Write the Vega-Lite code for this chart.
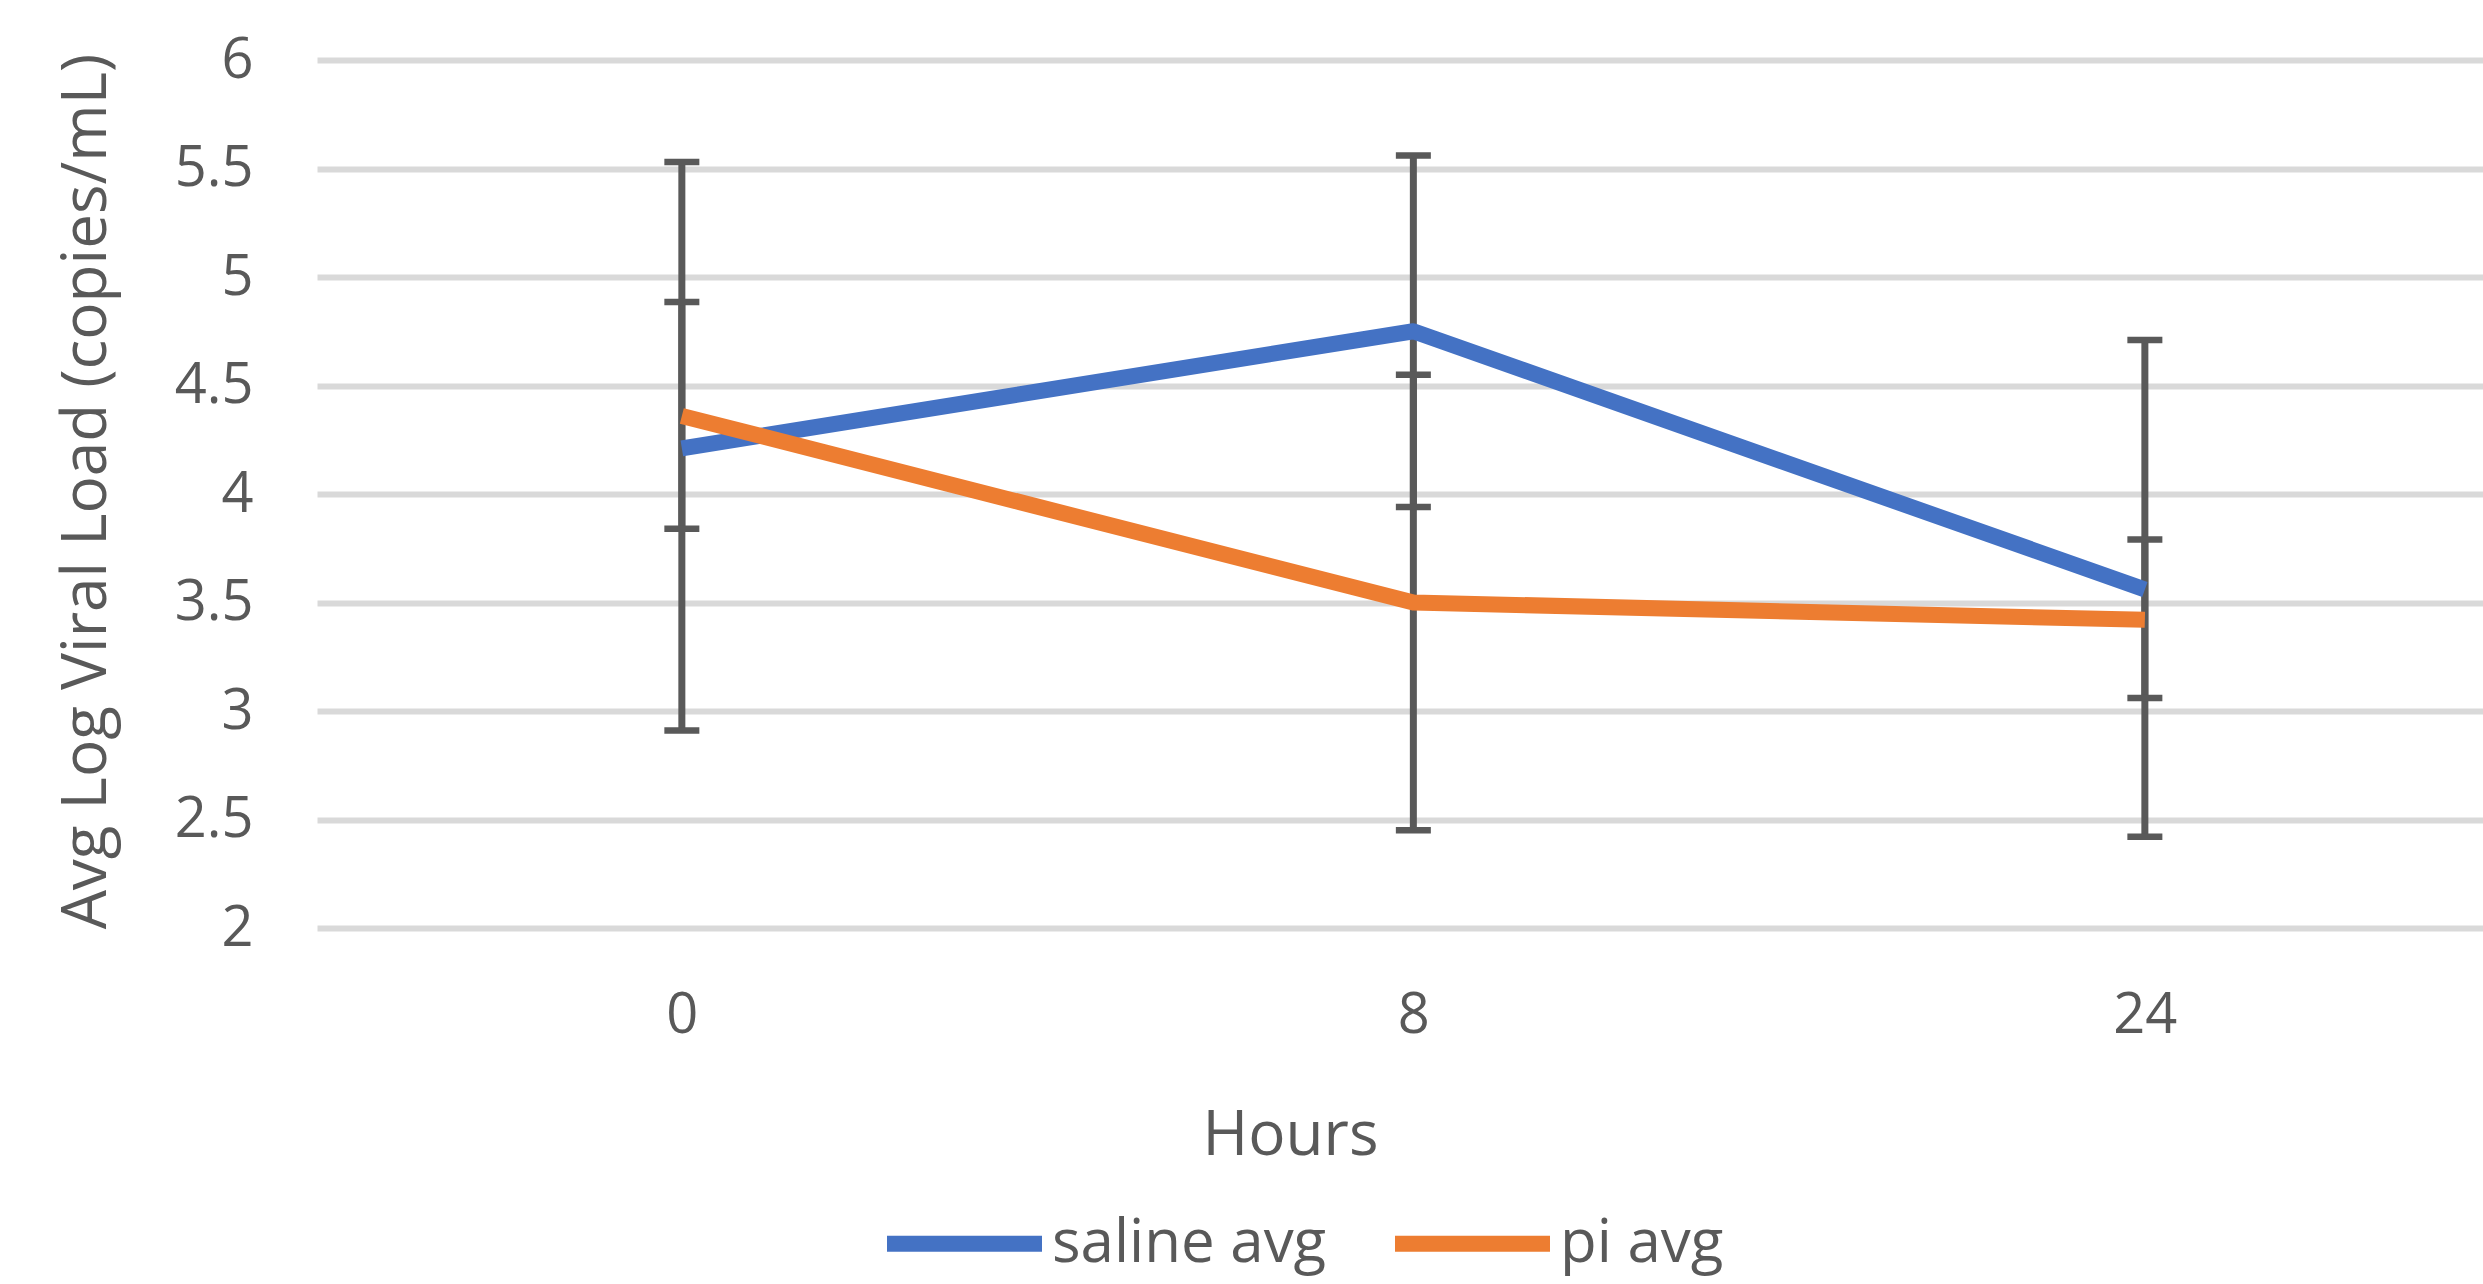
{
  "$schema": "https://vega.github.io/schema/vega-lite/v6.json",
  "autosize": {"type": "none"},
  "padding": {"left": 317, "top": 60, "right": 0, "bottom": 356},
  "width": 2166,
  "height": 868,
  "background": "white",
  "config": {
    "view": {"stroke": null},
    "font": "Open Sans",
    "axisY": {
      "grid": true, "gridColor": "#d9d9d9", "gridWidth": 6,
      "domain": false, "ticks": false, "labelPadding": 64,
      "labelFontSize": 56, "labelColor": "#595959",
      "titleFontSize": 62, "titleColor": "#595959", "titleFontWeight": "normal",
      "titleX": -212, "titleY": 431, "titleBaseline": "alphabetic", "titleAngle": 270, "titleAlign": "center",
      "tickCount": 8
    },
    "axisX": {
      "grid": false, "domain": false, "ticks": false, "labelPadding": 60,
      "labelFontSize": 56, "labelColor": "#595959", "labelAngle": 0,
      "titleFontSize": 62, "titleColor": "#595959", "titleFontWeight": "normal",
      "titleX": 973, "titleY": 226, "titleBaseline": "alphabetic", "titleAlign": "center"
    }
  },
  "data": {"values": [
    {"hour": "0", "series": "saline avg", "mean": 4.21, "lo": 2.91, "hi": 5.53},
    {"hour": "8", "series": "saline avg", "mean": 4.75, "lo": 3.94, "hi": 5.56},
    {"hour": "24", "series": "saline avg", "mean": 3.56, "lo": 2.42, "hi": 4.71},
    {"hour": "0", "series": "pi avg", "mean": 4.36, "lo": 3.84, "hi": 4.885},
    {"hour": "8", "series": "pi avg", "mean": 3.5, "lo": 2.45, "hi": 4.55},
    {"hour": "24", "series": "pi avg", "mean": 3.42, "lo": 3.06, "hi": 3.79}
  ]},
  "encoding": {
    "x": {
      "field": "hour", "type": "ordinal", "sort": ["0", "8", "24"],
      "scale": {"type": "point", "padding": 0.4805, "align": 0.519},
      "axis": {"title": "Hours"}
    }
  },
  "layer": [
    {
      "mark": {"type": "rule", "color": "#595959", "strokeWidth": 7},
      "encoding": {
        "y": {"field": "lo", "type": "quantitative", "title": "Avg Log Viral Load (copies/mL)", "scale": {"domain": [2, 6], "nice": false, "zero": false}},
        "y2": {"field": "hi"}
      }
    },
    {
      "mark": {"type": "tick", "color": "#595959", "size": 35, "thickness": 6.5, "orient": "horizontal", "opacity": 1},
      "encoding": {
        "y": {"field": "lo", "type": "quantitative", "title": "Avg Log Viral Load (copies/mL)"}
      }
    },
    {
      "mark": {"type": "tick", "color": "#595959", "size": 35, "thickness": 6.5, "orient": "horizontal", "opacity": 1},
      "encoding": {
        "y": {"field": "hi", "type": "quantitative", "title": "Avg Log Viral Load (copies/mL)"}
      }
    },
    {
      "mark": {"type": "line", "strokeWidth": 16, "strokeJoin": "round", "strokeCap": "butt"},
      "encoding": {
        "y": {"field": "mean", "type": "quantitative", "title": "Avg Log Viral Load (copies/mL)", "axis": {"format": "~g"}},
        "color": {
          "field": "series", "type": "nominal",
          "scale": {"domain": ["saline avg", "pi avg"], "range": ["#4472C4", "#ED7D31"]},
          "legend": {
            "orient": "none", "legendX": 562, "legendY": 1098, "direction": "horizontal",
            "title": null, "symbolType": "stroke", "symbolSize": 24025, "symbolStrokeWidth": 16,
            "labelFontSize": 60, "labelColor": "#595959", "labelOffset": 2, "columnPadding": 36,
            "labelFont": "Open Sans", "labelLimit": 0
          }
        }
      }
    }
  ]
}
